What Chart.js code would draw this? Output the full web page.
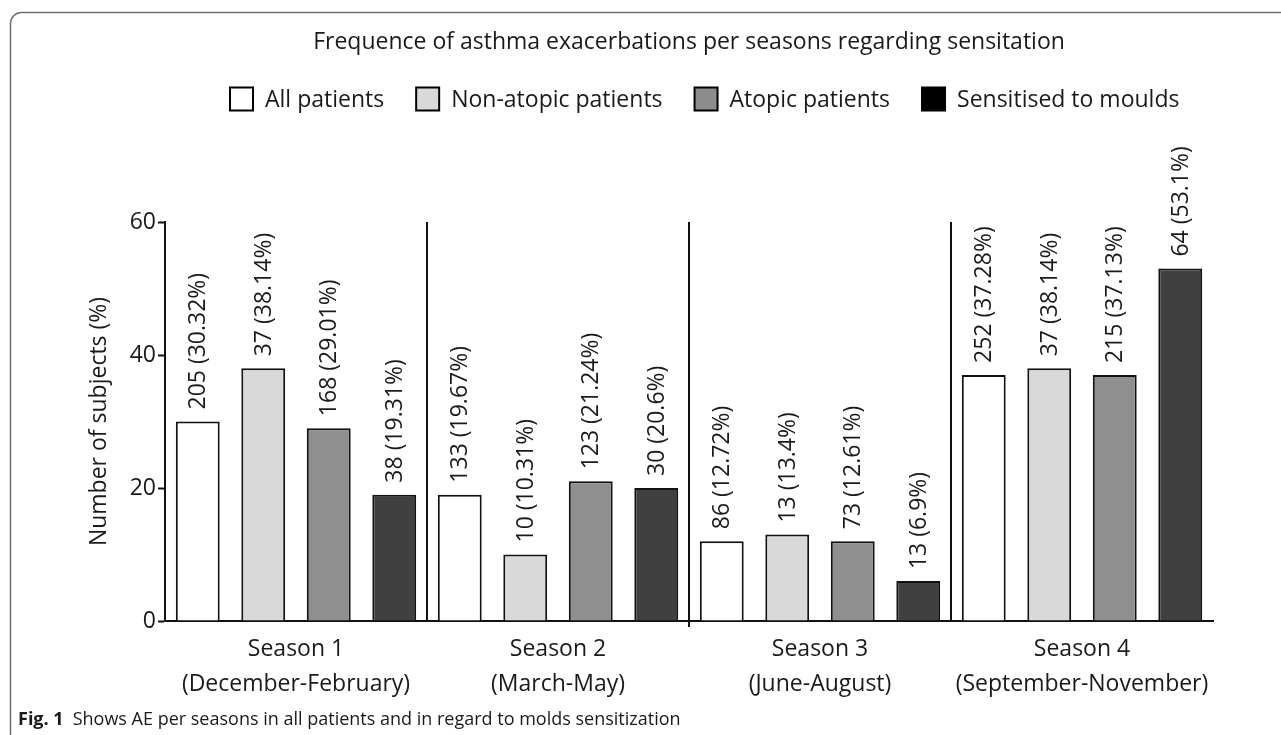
<!DOCTYPE html>
<html>
<head>
<meta charset="utf-8">
<script src="https://cdn.jsdelivr.net/npm/chart.js@4.4.1/dist/chart.umd.min.js"></script>
<style>
  html, body { margin: 0; padding: 0; background: #fff; }
  canvas { display: block; }
</style>
</head>
<body>
<canvas id="seasonChart" width="1281" height="735"></canvas>
<script>
// --- data ---
const seasons = [
    ["Season 1", "(December-February)"],
    ["Season 2", "(March-May)"],
    ["Season 3", "(June-August)"],
    ["Season 4", "(September-November)"]
];
const seriesNames = ["All patients", "Non-atopic patients", "Atopic patients", "Sensitised to moulds"];

// bar heights as plotted (%)
const allPatients = [30, 19, 12, 37];
const nonAtopic = [38, 10, 13, 38];
const atopic = [29, 21, 12, 37];
const moulds = [19, 20, 6, 53];

// printed labels: count (percent)
const allCounts = [205, 133, 86, 252];
const allPct = ["30.32", "19.67", "12.72", "37.28"];
const nonAtopicCounts = [37, 10, 13, 37];
const nonAtopicPct = ["38.14", "10.31", "13.4", "38.14"];
const atopicCounts = [168, 123, 73, 215];
const atopicPct = ["29.01", "21.24", "12.61", "37.13"];
const mouldsCounts = [38, 30, 13, 64];
const mouldsPct = ["19.31", "20.6", "6.9", "53.1"];

const yTicks = [0, 20, 40, 60];

const titleText = "Frequence of asthma exacerbations per seasons regarding sensitation";
const captionText = "Shows AE per seasons in all patients and in regard to molds sensitization";

const FONT = "'Open Sans', 'Noto Sans', sans-serif";
const INK = "#1a1a1a";

const barFills = ["#ffffff", "#d9d9d9", "#8f8f8f", "#404040"];
const legendFills = ["#ffffff", "#d9d9d9", "#8c8c8c", "#000000"];

const valueSets = [allPatients, nonAtopic, atopic, moulds];
const labelSets = [
    allCounts.map((c, i) => `${c} (${allPct[i]}%)`),
    nonAtopicCounts.map((c, i) => `${c} (${nonAtopicPct[i]}%)`),
    atopicCounts.map((c, i) => `${c} (${atopicPct[i]}%)`),
    mouldsCounts.map((c, i) => `${c} (${mouldsPct[i]}%)`)
];

// frame, title, legend, caption and the rotated value labels
const decorations = {
    id: "decorations",
    afterDatasetsDraw(chart) {
        const ctx = chart.ctx;
        ctx.save();
        ctx.fillStyle = INK;
        ctx.font = `23px ${FONT}`;
        ctx.textAlign = "left";
        ctx.textBaseline = "middle";
        chart.data.datasets.forEach((ds, di) => {
            chart.getDatasetMeta(di).data.forEach((bar, i) => {
                ctx.save();
                ctx.translate(bar.x + 1, bar.y - 12);
                ctx.rotate(-Math.PI / 2);
                ctx.fillText(labelSets[di][i], 0, 0);
                ctx.restore();
            });
        });
        ctx.restore();
    },
    afterDraw(chart) {
        const ctx = chart.ctx;
        const area = chart.chartArea;
        ctx.save();

        // rounded frame, top and left side only
        ctx.strokeStyle = "#6e6e6e";
        ctx.lineWidth = 1.5;
        ctx.beginPath();
        ctx.moveTo(10.5, 735);
        ctx.lineTo(10.5, 24);
        ctx.arcTo(10.5, 12.5, 22, 12.5, 11);
        ctx.lineTo(1281, 12.5);
        ctx.stroke();

        // title, centred over the plot
        ctx.fillStyle = INK;
        ctx.font = `23px ${FONT}`;
        ctx.textAlign = "center";
        ctx.textBaseline = "middle";
        ctx.fillText(titleText, (area.left + area.right) / 2, 42);

        // legend
        ctx.textAlign = "left";
        const box = 23, gapText = 12, gapItem = 32;
        let x = 230;
        const ly = 99;
        seriesNames.forEach((n, i) => {
            ctx.fillStyle = legendFills[i];
            ctx.fillRect(x, ly - box / 2, box, box);
            ctx.strokeStyle = "#000";
            ctx.lineWidth = 2;
            ctx.strokeRect(x, ly - box / 2, box, box);
            ctx.fillStyle = INK;
            ctx.fillText(n, x + box + gapText, ly + 1);
            x += box + gapText + ctx.measureText(n).width + gapItem;
        });

        // caption
        ctx.font = `bold 18px ${FONT}`;
        ctx.fillText("Fig. 1", 18, 720);
        const w = ctx.measureText("Fig. 1").width;
        ctx.font = `18px ${FONT}`;
        ctx.fillText(captionText, 18 + w + 9, 720);
        ctx.restore();
    }
};

new Chart(document.getElementById("seasonChart"), {
    type: "bar",
    data: {
        labels: seasons,
        datasets: seriesNames.map((name, i) => ({
            label: name,
            data: valueSets[i],
            backgroundColor: barFills[i],
            borderColor: "#111",
            borderWidth: 2,
            borderSkipped: "bottom",
            categoryPercentage: 1,
            barPercentage: 0.67
        }))
    },
    options: {
        responsive: false,
        devicePixelRatio: 1,
        animation: false,
        layout: { padding: { top: 222, left: 82, right: 68, bottom: 0 } },
        plugins: {
            legend: { display: false },
            title: { display: false },
            tooltip: { enabled: false }
        },
        scales: {
            x: {
                afterFit: s => { s.height = 114; },
                border: { display: true, color: "#111", width: 2 },
                grid: {
                    offset: true,
                    drawOnChartArea: true,
                    drawTicks: true,
                    tickLength: 6,
                    lineWidth: 2,
                    color: c => (c.index >= 1 && c.index <= 3 ? "#111" : "transparent"),
                    tickColor: c => (c.index === 2 ? "#111" : "transparent")
                },
                ticks: {
                    color: INK,
                    padding: 5,
                    font: { family: FONT, size: 23, lineHeight: 1.52 }
                }
            },
            y: {
                min: 0,
                max: 60,
                afterFit: s => { s.width = 83; },
                afterBuildTicks: s => { s.ticks = yTicks.map(v => ({ value: v })); },
                border: { display: true, color: "#111", width: 2 },
                grid: {
                    drawOnChartArea: false,
                    drawTicks: true,
                    tickLength: 7,
                    tickWidth: 2,
                    tickColor: "#111"
                },
                ticks: {
                    color: INK,
                    padding: 2,
                    font: { family: FONT, size: 23 }
                },
                title: {
                    display: true,
                    text: "Number of subjects (%)",
                    color: INK,
                    padding: { top: 4, bottom: 4 },
                    font: { family: FONT, size: 23 }
                }
            }
        }
    },
    plugins: [decorations]
});
</script>
</body>
</html>
